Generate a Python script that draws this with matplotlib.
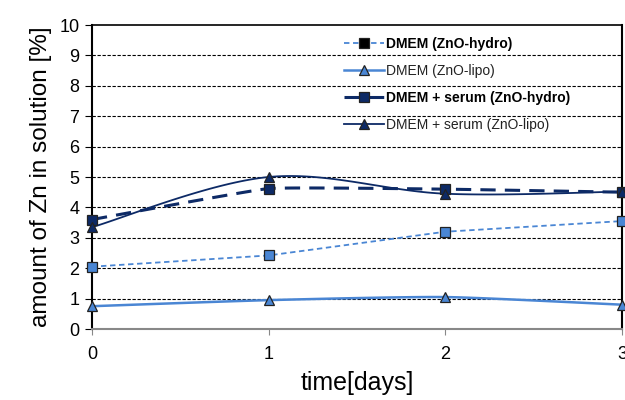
import numpy as np
import matplotlib
matplotlib.use("Agg")
import matplotlib.pyplot as plt
from matplotlib.lines import Line2D

plt.rcParams['font.family'] = ['Liberation Sans', 'DejaVu Sans']

days = [0, 1, 2, 3]
dmem_hydro = [2.05, 2.42, 3.2, 3.55]
dmem_lipo = [0.75, 0.95, 1.05, 0.8]
serum_hydro = [3.6, 4.62, 4.6, 4.5]
serum_lipo = [3.35, 5.0, 4.45, 4.52]
labels = ["DMEM (ZnO-hydro)", "DMEM (ZnO-lipo)",
          "DMEM + serum (ZnO-hydro)", "DMEM + serum (ZnO-lipo)"]

light = "#4a86d4"
navy = "#0d2a66"


def smooth(x, y, n=40, t=0.5):
    # Excel-like Catmull-Rom smoothing through the data points
    x = np.asarray(x, float); y = np.asarray(y, float)
    px = np.concatenate([[x[0]], x, [x[-1]]])
    py = np.concatenate([[y[0]], y, [y[-1]]])
    xs, ys = [], []
    for i in range(1, len(px) - 2):
        p0 = np.array([px[i - 1], py[i - 1]]); p1 = np.array([px[i], py[i]])
        p2 = np.array([px[i + 1], py[i + 1]]); p3 = np.array([px[i + 2], py[i + 2]])
        c1 = p1 + (p2 - p0) * t / 3
        c2 = p2 - (p3 - p1) * t / 3
        s = np.linspace(0, 1, n)[:, None]
        pts = (1 - s) ** 3 * p1 + 3 * (1 - s) ** 2 * s * c1 + 3 * (1 - s) * s ** 2 * c2 + s ** 3 * p2
        xs.extend(pts[:, 0]); ys.extend(pts[:, 1])
    return xs, ys


fig = plt.figure(figsize=(6.25, 4), dpi=100)
ax = fig.add_axes([92 / 625, 1 - 329 / 400, (622 - 92) / 625, (329 - 25) / 400])

ax.set_xlim(0, 3)
ax.set_ylim(0, 10)
for yv in range(1, 10):
    ax.axhline(yv, color="black", lw=0.8, ls=(0, (3, 1.5)), zorder=1)

# values, colour, linestyle, linewidth, marker, smoothing tension
series = [
    (dmem_hydro, light, (0, (3, 2)), 1.3, "s", 0.0),
    (dmem_lipo, light, "-", 1.8, "^", 0.3),
    (serum_hydro, navy, (0, (5, 3)), 2.2, "s", 0.15),
    (serum_lipo, navy, "-", 1.3, "^", 0.5),
]
handles = []
for i, (vals, col, ls, lw, mk, tens) in enumerate(series):
    sx, sy = smooth(days, vals, t=tens)
    ax.plot(sx, sy, color=col, ls=ls, lw=lw, zorder=3, clip_on=False)
    ax.plot(days, vals, ls="none", marker=mk, ms=6.5, mfc=col, mec="#222222",
            mew=0.9, zorder=4, clip_on=False)
    legmfc = "black" if i == 0 else col
    handles.append(Line2D([], [], color=col, ls=ls, lw=lw, marker=mk, ms=6.5,
                          mfc=legmfc, mec="#222222", mew=0.9))

leg = ax.legend(handles, labels, loc="upper left", bbox_to_anchor=(0.465, 0.98),
                frameon=False, fontsize=10, handlelength=2.9, labelspacing=0.95,
                handletextpad=0.15, borderaxespad=0)
for j, txt in enumerate(leg.get_texts()):
    if j in (0, 2):
        txt.set_fontweight("semibold")
    else:
        txt.set_color("#222222")

ax.set_xticks(days)
ax.set_yticks(range(0, 11))
ax.tick_params(axis="x", labelsize=13, length=4, color="#888888", pad=8)
ax.tick_params(axis="y", labelsize=13, length=5, color="black", direction="out", pad=4)
ax.spines["left"].set_color("black")
ax.spines["left"].set_linewidth(1.5)
ax.spines["top"].set_linewidth(1.2)
ax.spines["right"].set_linewidth(1.5)
ax.spines["bottom"].set_color("#888888")
ax.spines["bottom"].set_linewidth(1.5)

ax.set_xlabel("time[days]", fontsize=18, labelpad=6)
ax.set_ylabel("amount of Zn in solution [%]", fontsize=17.5, labelpad=5)

fig.savefig("out.png", dpi=100)
